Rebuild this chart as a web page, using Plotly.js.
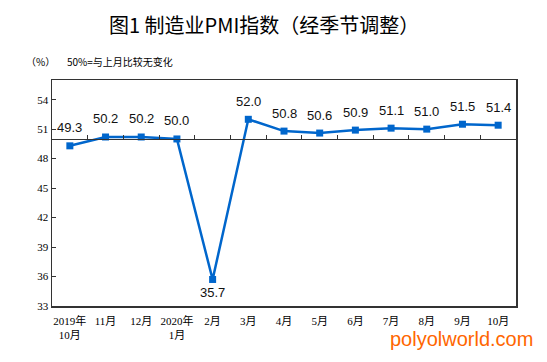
<!DOCTYPE html>
<html>
<head>
<meta charset="utf-8">
<script src="https://cdn.plot.ly/plotly-3.0.1.min.js"></script>
<style>html,body{margin:0;padding:0;background:#fff;}#chart{width:547px;height:362px;}</style>
</head>
<body>
<div id="chart"></div>
<script>
const categories = ["2019年<br>10月", "11月", "12月", "2020年<br>1月", "2月", "3月", "4月", "5月", "6月", "7月", "8月", "9月", "10月"];
const pmiValues = [49.3, 50.2, 50.2, 50.0, 35.7, 52.0, 50.8, 50.6, 50.9, 51.1, 51.0, 51.5, 51.4];
const yTicks = [33, 36, 39, 42, 45, 48, 51, 54];
const titleText = "图1 制造业PMI指数（经季节调整）";
const unitText = "（%）";
const noteText = "50%=与上月比较无变化";
const watermarkText = "polyolworld.com";

const trace = {
  x: categories,
  y: pmiValues,
  type: "scatter",
  mode: "lines+markers",
  line: {color: "#0066CC", width: 2.5},
  marker: {symbol: "square", size: 7, color: "#0066CC"},
  cliponaxis: false,
  hoverinfo: "skip",
  xaxis: "x",
  yaxis: "y"
};

// dummy trace for the 50-line axis
const trace2 = {
  x: categories,
  y: pmiValues,
  type: "scatter",
  mode: "none",
  xaxis: "x2",
  yaxis: "y",
  hoverinfo: "skip",
  showlegend: false
};

const labelAnnotations = pmiValues.map((v, i) => ({
  x: categories[i], y: v, xref: "x", yref: "y",
  text: v.toFixed(1), showarrow: false,
  xanchor: "center", yanchor: "middle",
  yshift: v < 40 ? -13 : 18,
  font: {family: "Liberation Sans, Arial", size: 13, color: "#111"}
}));

const yMin = 33, yMax = 56;
const layout = {
  width: 547,
  height: 362,
  margin: {l: 52, r: 31, t: 80, b: 56},
  paper_bgcolor: "#fff",
  plot_bgcolor: "#fff",
  showlegend: false,
  title: {
    text: titleText,
    x: 0.483, xanchor: "center",
    y: 0.928, yanchor: "middle",
    font: {family: "Noto Sans CJK SC", size: 20, color: "#000"}
  },
  xaxis: {
    type: "category",
    range: [-0.5, categories.length - 0.5],
    showline: true, mirror: true, linecolor: "#333", linewidth: 1.5,
    ticks: "", showgrid: false, zeroline: false,
    tickfont: {family: "Liberation Serif, Noto Sans CJK SC", size: 11, color: "#000"},
    ticklabelstandoff: 4
  },
  xaxis2: {
    type: "category",
    overlaying: "x",
    anchor: "free",
    position: (50 - yMin) / (yMax - yMin),
    range: [-0.5, categories.length - 0.5],
    showline: true, linecolor: "#333", linewidth: 1.5,
    ticks: "inside", tickson: "boundaries", ticklen: 4, tickcolor: "#333",
    showticklabels: false, showgrid: false, zeroline: false
  },
  yaxis: {
    range: [yMin, yMax],
    tickvals: yTicks,
    ticks: "inside", ticklen: 4, tickcolor: "#333",
    showline: true, mirror: true, linecolor: "#333", linewidth: 1.5,
    showgrid: false, zeroline: false,
    tickfont: {family: "Liberation Serif", size: 11, color: "#000"}
  },
  annotations: labelAnnotations.concat([
    {text: unitText, xref: "paper", yref: "paper", x: -0.06, y: 1.08, xanchor: "left", yanchor: "middle", showarrow: false,
     font: {family: "Noto Sans CJK SC", size: 10, color: "#000"}},
    {text: noteText, xref: "paper", yref: "paper", x: 0.028, y: 1.08, xanchor: "left", yanchor: "middle", showarrow: false,
     font: {family: "Noto Sans CJK SC", size: 10, color: "#000"}},
    {text: watermarkText, xref: "paper", yref: "paper", x: 1.04, y: -0.145, xanchor: "right", yanchor: "middle", showarrow: false,
     font: {family: "Liberation Sans, Arial", size: 20, color: "#FF6600"}}
  ])
};

Plotly.newPlot("chart", [trace, trace2], layout, {staticPlot: true, displayModeBar: false});
</script>
</body>
</html>
